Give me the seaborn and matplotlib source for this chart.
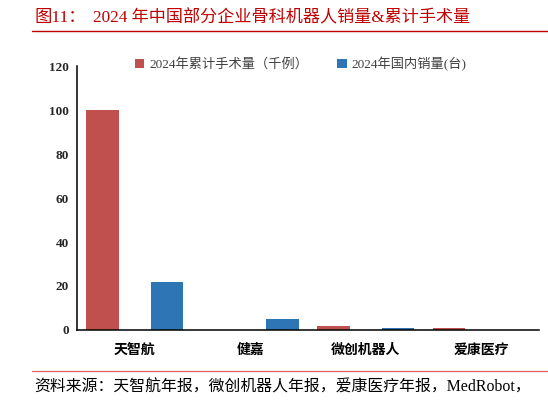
import matplotlib
matplotlib.use("Agg")
import matplotlib.pyplot as plt
import seaborn as sns
import pandas as pd
import numpy as np

categories = ["天智航", "健嘉", "微创机器人", "爱康医疗"]
series_names = ["2024年累计手术量（千例）", "2024年国内销量(台)"]
surgeries = [100, 0, 2, 1]
sales = [22, 5, 1, 0]
yticks = [0, 20, 40, 60, 80, 100, 120]

sns.set_theme(style="white")
plt.rcParams['font.family'] = ['Liberation Serif', 'Noto Sans CJK SC', 'DejaVu Sans']

df = pd.DataFrame({
    "cat": categories * 2,
    "series": [series_names[0]] * 4 + [series_names[1]] * 4,
    "value": surgeries + sales,
})

fig = plt.figure(figsize=(5.48, 4.01), dpi=100)
ax = fig.add_axes([77/548, 1 - 330/401, (539-77)/548, (330-66)/401])

sns.barplot(data=df, x="cat", y="value", hue="series", order=categories,
            hue_order=series_names, palette=["#C0504D", "#2E75B6"], saturation=1,
            width=1.12, gap=0.5, ax=ax, legend=True, edgecolor="none")

ax.set_xlim(-0.5, 3.5)
ax.set_ylim(0, 120)
ax.set_yticks(yticks)
ax.set_yticklabels([str(v) for v in yticks], fontweight="bold", fontsize=9.5,
                   family=['Liberation Serif'])
ax.set_xticks(range(len(categories)))
ax.set_xticklabels(categories, fontweight="bold", fontsize=10,
                   family=['Noto Sans CJK SC'])
ax.set_xticks(np.arange(-0.5, 4.0, 1.0), minor=True)
ax.tick_params(axis="x", which="major", length=0, pad=9, colors="black")
ax.tick_params(axis="x", which="minor", length=5, width=1.1, direction="out", color="black")
ax.tick_params(axis="y", length=4, width=1.1, direction="out", color="black", pad=2)
ax.set_xlabel("")
ax.set_ylabel("")
for s in ["top", "right"]:
    ax.spines[s].set_visible(False)
for s in ["left", "bottom"]:
    ax.spines[s].set_color("black")
    ax.spines[s].set_linewidth(1.1)

leg = ax.legend(loc="upper left", bbox_to_anchor=(123/548, 1 - 45/401),
                bbox_transform=fig.transFigure, ncol=2, frameon=False,
                prop={'family': ['Liberation Serif', 'Noto Sans CJK SC'], 'size': 9.5},
                handlelength=0.7, handleheight=0.7, columnspacing=2.2, handletextpad=0.4)
for t in leg.get_texts():
    t.set_color("#404040")

fig.text(34/548, 1 - 18/401, "图11：", color="#C00000", fontsize=12.5,
         va="center", ha="left", family=['Liberation Serif', 'Noto Sans CJK SC'])
fig.text(93/548, 1 - 18/401, "2024 年中国部分企业骨科机器人销量&累计手术量", color="#C00000",
         fontsize=12.3, va="center", ha="left",
         family=['Liberation Serif', 'Noto Sans CJK SC'])
fig.add_artist(plt.Line2D([32/548, 1], [1 - 31/401, 1 - 31/401], color="#C00000", lw=1.0))
fig.add_artist(plt.Line2D([32/548, 1], [1 - 371/401, 1 - 371/401], color="#E06060", lw=0.9))
fig.text(34/548, 1 - 388/401, "资料来源：天智航年报，微创机器人年报，爱康医疗年报，MedRobot，",
         color="black", fontsize=11.4, va="center", ha="left",
         family=['Liberation Serif', 'Noto Sans CJK SC'])

fig.savefig("out.png", dpi=100)
